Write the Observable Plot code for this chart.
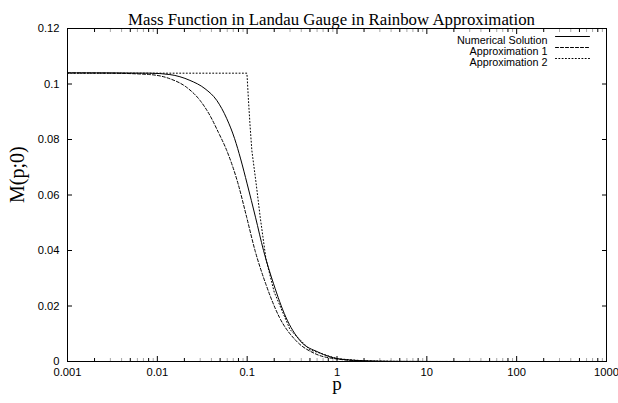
<!DOCTYPE html>
<html><head><meta charset="utf-8">
<script src="https://cdn.jsdelivr.net/npm/d3@7"></script>
<script src="https://cdn.jsdelivr.net/npm/@observablehq/plot@0.6"></script>
<style>body{margin:0;background:#fff} svg{display:block}</style>
</head><body><div id="chart"></div>
<script>
const title = "Mass Function in Landau Gauge in Rainbow Approximation";
const xLabel = "p";
const yLabel = "M(p;0)";
const seriesNames = ["Numerical Solution", "Approximation 1", "Approximation 2"];

const pNum = [0.001, 0.003, 0.00824, 0.01379, 0.02307, 0.03394, 0.04586, 0.05932, 0.07249, 0.0846, 0.1, 0.1238, 0.1521, 0.1967, 0.2693, 0.3861, 0.6214, 1.039, 2, 4, 10, 100, 1000];
const mNum = [0.1040, 0.1040, 0.1039, 0.1034, 0.1013, 0.0983, 0.0941, 0.0875, 0.0803, 0.0730, 0.0640, 0.0520, 0.0400, 0.0280, 0.0160, 0.00757, 0.00335, 0.00097, 0.00025, 0.00004, 0.00001, 0, 0];

const pA1 = [0.001, 0.003, 0.00824, 0.01379, 0.0212, 0.02984, 0.03861, 0.04777, 0.05932, 0.0793, 0.09872, 0.1223, 0.1609, 0.2278, 0.3482, 0.575, 1.0, 2, 4, 10, 100, 1000];
const mA1 = [0.1040, 0.1039, 0.1034, 0.1019, 0.0988, 0.0941, 0.0886, 0.0826, 0.0760, 0.0640, 0.0520, 0.0400, 0.0280, 0.0160, 0.00757, 0.00277, 0.0009, 0.0002, 0.00003, 0.00001, 0, 0];

const pA2 = [0.001, 0.0992, 0.1, 0.1034, 0.108, 0.1128, 0.126, 0.1397, 0.1618, 0.2, 0.3, 0.5, 1, 2, 5, 10, 1000];
const mA2 = [0.1039, 0.1039, 0.1025, 0.0941, 0.0844, 0.0760, 0.0640, 0.0520, 0.0370, 0.0250, 0.0115, 0.0042, 0.0010, 0.00025, 0.00004, 0.00001, 0];

const xTicks = [0.001, 0.01, 0.1, 1, 10, 100, 1000];
const xTickLabels = ["0.001", "0.01", "0.1", "1", "10", "100", "1000"];
const xMinorBold = [2, 5, 8];
const xMinorFaint = [3, 4, 6, 7, 9];
const yTicks = [0, 0.02, 0.04, 0.06, 0.08, 0.1, 0.12];
const yTickLabels = ["0", "0.02", "0.04", "0.06", "0.08", "0.1", "0.12"];

const toRows = (ps, ms) => ps.map((p, i) => ({p, m: ms[i]}));
const num = toRows(pNum, mNum), a1 = toRows(pA1, mA1), a2 = toRows(pA2, mA2);
const minorOf = ks => xTicks.slice(0, -1).flatMap(d => ks.map(k => d * k));
const xLab = new Map(xTicks.map((d, i) => [d, xTickLabels[i]]));
const yLab = new Map(yTicks.map((d, i) => [d, yTickLabels[i]]));
const dashes = [null, "3,2", "1,2.3"];
const lineShape = {draw(ctx, l) { ctx.moveTo(0, 0); ctx.lineTo(0, -l); }};
const blank = () => "";
const serif = "'Liberation Serif', 'Times New Roman', serif";

const legendMarks = seriesNames.flatMap((name, i) => [
  Plot.text([name], {frameAnchor: "top-right", dx: -59, dy: 8 + 11 * i, textAnchor: "end", fontSize: 10.8, fill: "black"}),
  Plot.vector([0], {frameAnchor: "top-right", dx: -17, dy: 8 + 11 * i, rotate: 90, length: 34, anchor: "end", shape: lineShape, stroke: "black", strokeWidth: 1, strokeDasharray: dashes[i]})
]);

const minorMarks = [[xMinorBold, 1], [xMinorFaint, 0.35]].flatMap(([ks, op]) => [
  Plot.axisX(minorOf(ks), {anchor: "bottom", tickSize: -3, tickFormat: blank, label: null, strokeOpacity: op}),
  Plot.axisX(minorOf(ks), {anchor: "top", tickSize: -3, tickFormat: blank, label: null, strokeOpacity: op})
]);

const chart = Plot.plot({
  width: 618, height: 403,
  marginTop: 28, marginRight: 12, marginBottom: 42, marginLeft: 67,
  style: {fontFamily: "'Liberation Sans', Arial, sans-serif", fontSize: "11px", background: "white", color: "black"},
  x: {type: "log", domain: [0.001, 1000]},
  y: {domain: [0, 0.12]},
  marks: [
    Plot.axisX(xTicks, {anchor: "bottom", tickSize: 0, tickPadding: 7, tickFormat: d => xLab.get(d), label: null, fontSize: 11.2}),
    Plot.axisX(xTicks, {anchor: "bottom", tickSize: -5, tickFormat: blank, label: null}),
    Plot.axisX(xTicks, {anchor: "top", tickSize: -5, tickFormat: blank, label: null}),
    ...minorMarks,
    Plot.axisY(yTicks, {anchor: "left", tickSize: 0, tickPadding: 8, tickFormat: d => yLab.get(d), label: null, fontSize: 11.2}),
    Plot.axisY(yTicks, {anchor: "left", tickSize: -5, tickFormat: blank, label: null}),
    Plot.axisY(yTicks, {anchor: "right", tickSize: -5, tickFormat: blank, label: null}),
    Plot.frame({stroke: "black", strokeWidth: 1}),
    Plot.line(a2, {x: "p", y: "m", stroke: "black", strokeWidth: 1, strokeDasharray: dashes[2]}),
    Plot.line(a1, {x: "p", y: "m", stroke: "black", strokeWidth: 1, strokeDasharray: dashes[1], curve: "monotone-x"}),
    Plot.line(num, {x: "p", y: "m", stroke: "black", strokeWidth: 1, curve: "monotone-x"}),
    ...legendMarks,
    Plot.text([title], {frameAnchor: "top", dx: -5.5, dy: -15.4, fontFamily: serif, fontSize: 16.8, fill: "black"}),
    Plot.text([xLabel], {frameAnchor: "bottom", dy: 28, fontFamily: serif, fontSize: 19, fill: "black"}),
    Plot.text([yLabel], {frameAnchor: "left", dx: -50, dy: 8, rotate: -90, fontFamily: serif, fontSize: 20, fill: "black"})
  ]
});
document.getElementById("chart").appendChild(chart);
</script>
</body></html>
